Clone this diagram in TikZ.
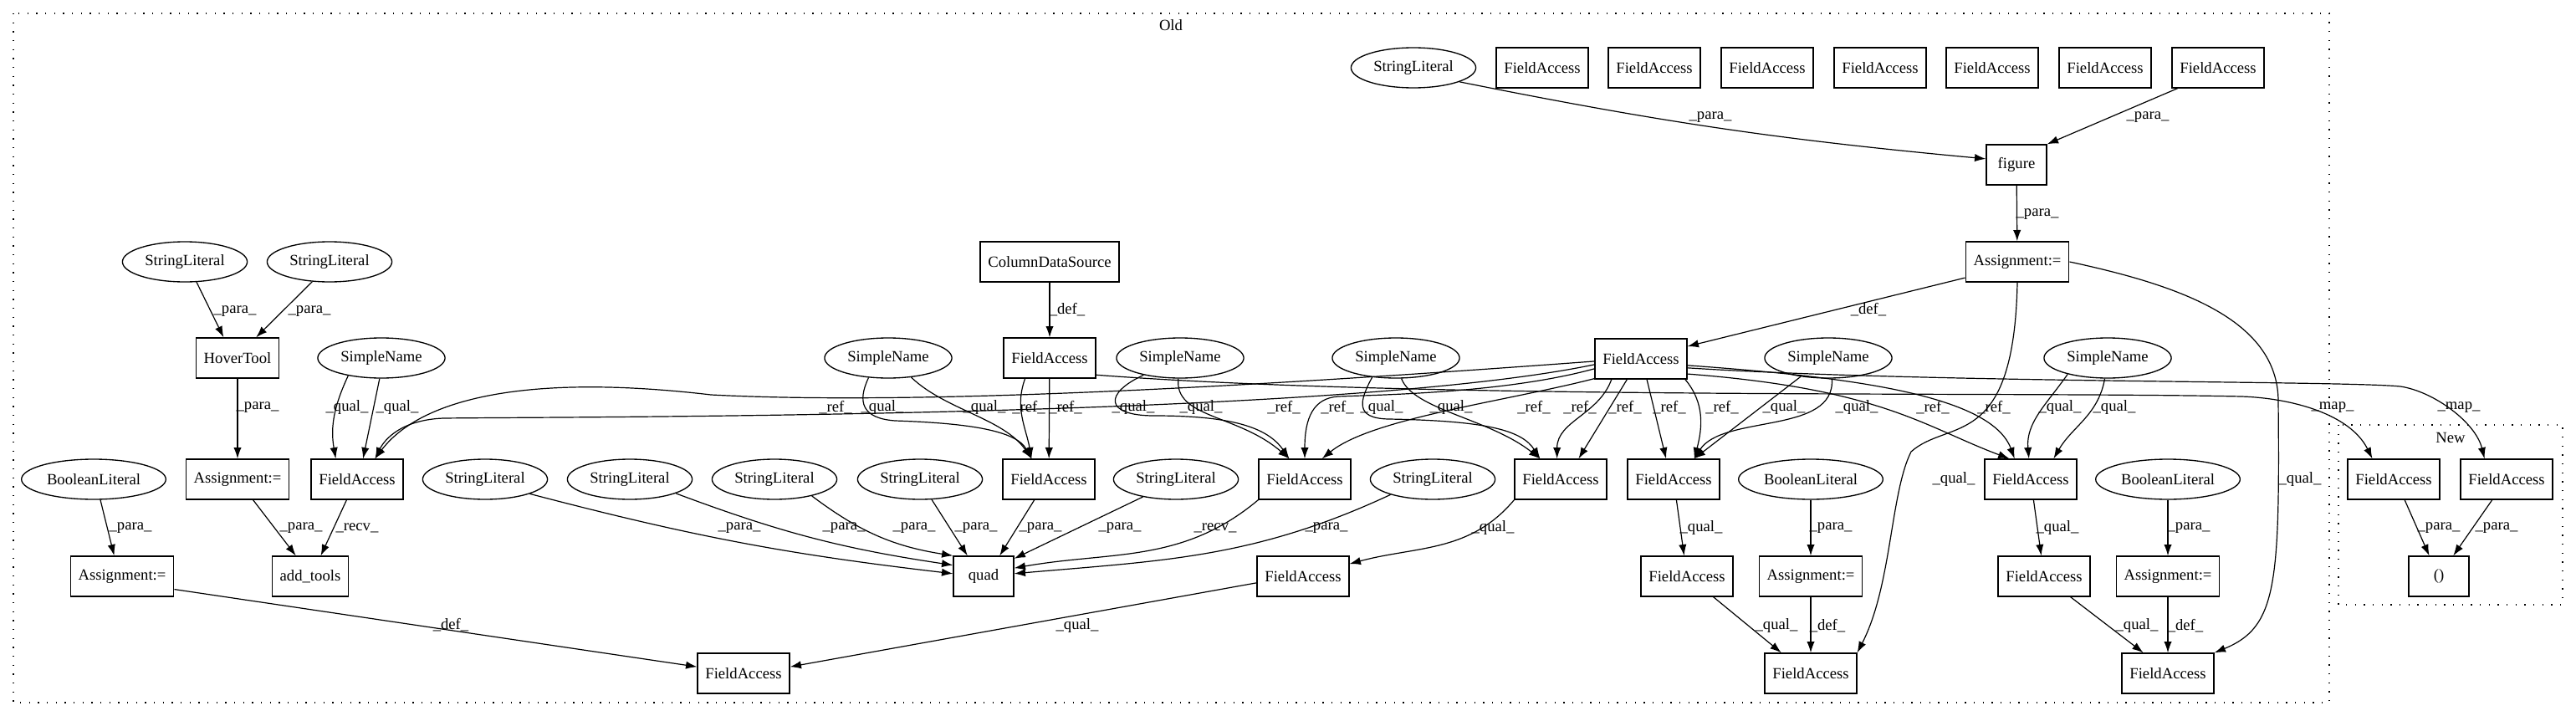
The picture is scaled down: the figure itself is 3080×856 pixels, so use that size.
\documentclass[tikz,border=0pt]{standalone}
\usepackage{fontspec}
\setmainfont{Liberation Serif}
\usetikzlibrary{shapes.geometric, arrows.meta}

\begin{document}
\begin{tikzpicture}[x=0.75pt, y=-0.75pt,
  every node/.style={font=\fontsize{14}{16}\selectfont},
  box/.style={draw, rectangle, line width=1pt, minimum height=36pt, minimum width=54pt, inner xsep=7pt},
  oval/.style={draw, ellipse, line width=1pt, minimum height=36pt, inner xsep=3.8pt, inner ysep=2pt},
  lbl/.style={inner sep=0pt},
  arr/.style={->, >={Latex[length=10pt, width=7pt]}, line width=0.9pt},
  grp/.style={draw, line width=1pt, dash pattern=on 1pt off 7pt}]
\useasboundingbox (0,0) rectangle (3080,856);
% Clusters
\draw[grp] (16,16) rectangle (2785,840);
\node (old) at (1400,30) {Old};
\draw[grp] (2796,508) rectangle (3064,723);
\node (new) at (2930,523) {New};
% Top row
\node[oval] (slfig) at (1690,81) {StringLiteral};
\node[box] (fat1) at (1844,81) {FieldAccess};
\node[box] (fat2) at (1978,81) {FieldAccess};
\node[box] (fat3) at (2113,81) {FieldAccess};
\node[box] (fat4) at (2248,81) {FieldAccess};
\node[box] (fat5) at (2382,81) {FieldAccess};
\node[box] (fat6) at (2517,81) {FieldAccess};
\node[box] (fat7) at (2652,81) {FieldAccess};
\node[box] (fig) at (2411,197) {figure};
\node[box] (asgfig) at (2412,313) {Assignment:=};
\node[oval] (slh1) at (221,313) {StringLiteral};
\node[oval] (slh2) at (394,313) {StringLiteral};
\node[box] (cds) at (1255,313) {ColumnDataSource};
% Middle row
\node[box] (hover) at (284,428) {HoverTool};
\node[oval] (sn1) at (456,428) {SimpleName};
\node[oval] (sn2) at (1062,428) {SimpleName};
\node[box] (srcfa) at (1255,428) {FieldAccess};
\node[oval] (sn3) at (1411,428) {SimpleName};
\node[oval] (sn4) at (1669,428) {SimpleName};
\node[box] (pfig) at (1962,429) {FieldAccess};
\node[oval] (sn5) at (2186,428) {SimpleName};
\node[oval] (sn6) at (2520,428) {SimpleName};
% Lower rows
\node[oval] (bl1) at (112,573) {BooleanLiteral};
\node[box] (asghov) at (284,573) {Assignment:=};
\node[box] (fa1) at (427,573) {FieldAccess};
\node[oval] (sl2) at (580,573) {StringLiteral};
\node[oval] (sl3) at (753,573) {StringLiteral};
\node[oval] (sl4) at (926,573) {StringLiteral};
\node[oval] (sl5) at (1100,573) {StringLiteral};
\node[box] (fa2) at (1254,573) {FieldAccess};
\node[oval] (sl6) at (1406,573) {StringLiteral};
\node[box] (fa3) at (1560,573) {FieldAccess};
\node[oval] (sl7) at (1713,573) {StringLiteral};
\node[box] (fa4) at (1866,573) {FieldAccess};
\node[box] (fa5) at (2001,573) {FieldAccess};
\node[oval] (bl2) at (2165,573) {BooleanLiteral};
\node[box] (fa6) at (2428,573) {FieldAccess};
\node[oval] (bl3) at (2592,573) {BooleanLiteral};
\node[box] (nfa1) at (2862,573) {FieldAccess};
\node[box] (nfa2) at (2997,573) {FieldAccess};
\node[box] (asgb) at (146,689) {Assignment:=};
\node[box] (addt) at (371,689) {add\_tools};
\node[box] (quad) at (1176,689) {quad};
\node[box] (fa7) at (1558,689) {FieldAccess};
\node[box] (fa8) at (2017,689) {FieldAccess};
\node[box] (asg2) at (2165,689) {Assignment:=};
\node[box] (fa9) at (2444,689) {FieldAccess};
\node[box] (asg3) at (2592,689) {Assignment:=};
\node[box] (paren) at (2916,689) {()};
\node[box] (fa10) at (889,805) {FieldAccess};
\node[box] (fa11) at (2165,805) {FieldAccess};
\node[box] (fa12) at (2592,805) {FieldAccess};
% Arrows
\draw[arr] (slfig.-17) to[bend right=3] (fig.169) node[lbl] at (2045,140) {\_para\_};
\draw[arr] (fat7.207)--(fig.north east) node[lbl] at (2568,140) {\_para\_};
\draw[arr] (fig)--(asgfig) node[lbl] at (2436,256) {\_para\_};
\draw[arr] (asgfig.197)--(pfig.15) node[lbl] at (2234,370) {\_def\_};
\draw[arr] (asgfig.south) .. controls (2408,540) and (2330,500) .. (2285,540) .. controls (2260,590) and (2262,700) .. (fa11.north east) node[lbl] at (2336,573) {\_qual\_};
\draw[arr] (asgfig.east) .. controls (2600,340) and (2724,380) .. (2724,480) .. controls (2726,700) and (2722,750) .. (fa12.north east) node[lbl] at (2750,573) {\_qual\_};
\draw[arr] (slh1.-60)--(hover.124) node[lbl] at (281,372) {\_para\_};
\draw[arr] (slh2.229)--(hover.48) node[lbl] at (370,372) {\_para\_};
\draw[arr] (hover)--(asghov) node[lbl] at (308,487) {\_para\_};
\draw[arr] (asghov.-53)--(addt.125) node[lbl] at (360,631) {\_para\_};
\draw[arr] (fa1.243)--(addt.63) node[lbl] at (427,631) {\_recv\_};
\draw[arr] (bl1.-72)--(asgb.111) node[lbl] at (156,631) {\_para\_};
\draw[arr] (asgb.-14)--(fa10.172) node[lbl] at (539,747) {\_def\_};
\draw[arr] (sn1.208) to[out=245,in=100] (fa1.136) node[lbl] at (415,487) {\_qual\_};
\draw[arr] (sn1.265)--(fa1.74) node[lbl] at (475,487) {\_qual\_};
\draw[arr] (cds)--(srcfa) node[lbl] at (1276,370) {\_def\_};
\draw[arr] (srcfa.220) to[out=250,in=100] (fa2.130) node[lbl] at (1230,487) {\_ref\_};
\draw[arr] (srcfa)--(fa2) node[lbl] at (1274,487) {\_ref\_};
\draw[arr] (sn2.225) .. controls (1025,480) and (1030,500) .. (1070,503) .. controls (1160,506) and (1215,515) .. (fa2.130) node[lbl] at (1055,487) {\_qual\_};
\draw[arr] (sn2.-40) .. controls (1130,490) and (1200,500) .. (fa2.130) node[lbl] at (1177,487) {\_qual\_};
% quad
\draw[arr] (sl2.-18) to[bend right=4] (quad.175) node[lbl] at (884,631) {\_para\_};
\draw[arr] (sl3.-17) to[bend right=6] (quad.160) node[lbl] at (1009,631) {\_para\_};
\draw[arr] (sl4.-24) to[bend right=14] (quad.146) node[lbl] at (1093,631) {\_para\_};
\draw[arr] (sl5.-60)--(quad.128) node[lbl] at (1167,631) {\_para\_};
\draw[arr] (fa2.235)--(quad.52) node[lbl] at (1244,631) {\_para\_};
\draw[arr] (sl6.208)--(quad.30) node[lbl] at (1339,631) {\_para\_};
\draw[arr] (fa3.south west) to[out=220,in=10] (quad.15) node[lbl] at (1453,631) {\_recv\_};
\draw[arr] (sl7.200) to[out=205,in=5] (quad.5) node[lbl] at (1586,631) {\_para\_};
\draw[arr] (sn3.205) .. controls (1320,470) and (1320,497) .. (1380,497) .. controls (1470,497) and (1515,510) .. (fa3.127) node[lbl] at (1355,487) {\_qual\_};
\draw[arr] (sn3.265) .. controls (1404,500) and (1480,495) .. (fa3.127) node[lbl] at (1436,487) {\_qual\_};
\draw[arr] (sn4.219) .. controls (1625,480) and (1620,500) .. (1660,501) .. controls (1780,503) and (1820,515) .. (fa4.135) node[lbl] at (1652,487) {\_qual\_};
\draw[arr] (sn4.-75) .. controls (1690,490) and (1780,500) .. (fa4.135) node[lbl] at (1735,487) {\_qual\_};
\draw[arr] (fa4.south west) to[out=230,in=15] (fa7.15) node[lbl] at (1785,631) {\_qual\_};
\draw[arr] (fa7.188)--(fa10.8) node[lbl] at (1288,748) {\_qual\_};
\draw[arr] (sn5.214)--(fa5.45) node[lbl] at (2133,487) {\_qual\_};
\draw[arr] (sn5.280) .. controls (2195,520) and (2060,495) .. (fa5.45) node[lbl] at (2220,487) {\_qual\_};
\draw[arr] (fa5)--(fa8) node[lbl] at (2034,631) {\_qual\_};
\draw[arr] (fa8.-38)--(fa11.145) node[lbl] at (2124,748) {\_qual\_};
\draw[arr] (bl2)--(asg2) node[lbl] at (2189,631) {\_para\_};
\draw[arr] (asg2)--(fa11) node[lbl] at (2185,748) {\_def\_};
\draw[arr] (sn6.202) to[out=235,in=95] (fa6.95) node[lbl] at (2463,487) {\_qual\_};
\draw[arr] (sn6.262) to[out=260,in=60] (fa6.42) node[lbl] at (2528,487) {\_qual\_};
\draw[arr] (fa6)--(fa9) node[lbl] at (2460,631) {\_qual\_};
\draw[arr] (fa9.-38)--(fa12.140) node[lbl] at (2555,748) {\_qual\_};
\draw[arr] (bl3)--(asg3) node[lbl] at (2617,631) {\_para\_};
\draw[arr] (asg3)--(fa12) node[lbl] at (2613,748) {\_def\_};
% References of the figure field
\draw[arr] (pfig.183) .. controls (1500,462) and (1100,485) .. (850,472) .. controls (620,445) and (500,480) .. (fa1.49) node[lbl] at (999,487) {\_ref\_};
\draw[arr] (pfig.187) .. controls (1600,500) and (700,498) .. (530,500) .. controls (480,502) and (460,525) .. (fa1.49) node[lbl] at (1535,487) {\_ref\_};
\draw[arr] (pfig.192) .. controls (1800,470) and (1650,472) .. (1600,474) .. controls (1570,476) and (1560,500) .. (fa3.north) node[lbl] at (1599,487) {\_ref\_};
\draw[arr] (pfig.203) .. controls (1800,480) and (1640,500) .. (fa3.50) node[lbl] at (1834,487) {\_ref\_};
\draw[arr] (pfig.215) to[out=250,in=90] (fa4.100) node[lbl] at (1889,487) {\_ref\_};
\draw[arr] (pfig.236)--(fa4.49) node[lbl] at (1943,487) {\_ref\_};
\draw[arr] (pfig.-74)--(fa5.110) node[lbl] at (1996,487) {\_ref\_};
\draw[arr] (pfig.-25) to[out=-50,in=75] (fa5.45) node[lbl] at (2059,487) {\_ref\_};
\draw[arr] (pfig.-18) .. controls (2250,465) and (2300,510) .. (fa6.136) node[lbl] at (2311,487) {\_ref\_};
\draw[arr] (pfig.-8) .. controls (2200,450) and (2380,470) .. (fa6.128) node[lbl] at (2384,487) {\_ref\_};
% Mapping to New
\draw[arr] (srcfa.-20) .. controls (1700,478) and (2400,468) .. (2680,474) .. controls (2740,476) and (2810,495) .. (nfa1.136) node[lbl] at (2789,487) {\_map\_};
\draw[arr] (pfig.-11) .. controls (2300,458) and (2800,455) .. (2870,462) .. controls (2910,468) and (2960,505) .. (nfa2.137) node[lbl] at (2940,487) {\_map\_};
\draw[arr] (nfa1.-62)--(paren.115) node[lbl] at (2916,631) {\_para\_};
\draw[arr] (nfa2.235)--(paren.55) node[lbl] at (2985,631) {\_para\_};
\end{tikzpicture}
\end{document}
